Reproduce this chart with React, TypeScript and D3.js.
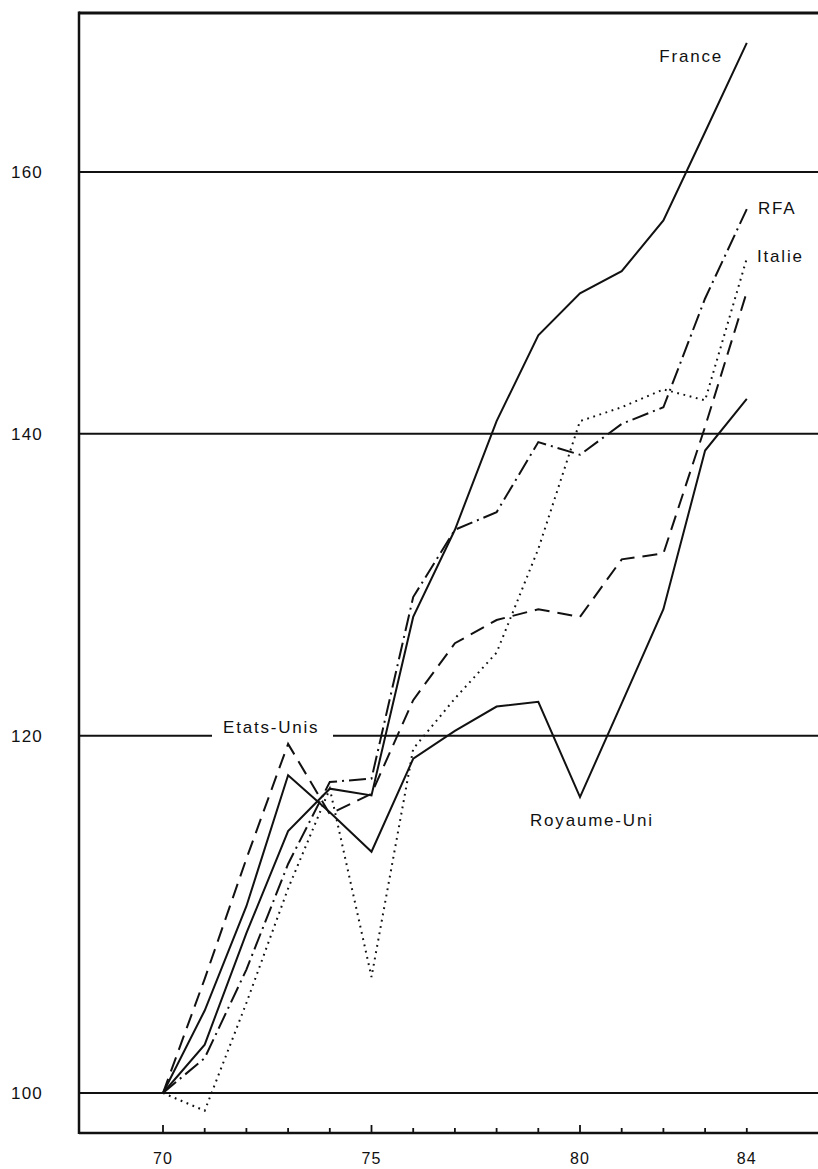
import React from "react";
import * as d3 from "d3";

const years = [70, 71, 72, 73, 74, 75, 76, 77, 78, 79, 80, 81, 82, 83, 84];
const france = [100, 102.5, 108.5, 114.3, 116.8, 116.4, 127.5, 133.3, 140.9, 147.2, 150.4, 152.1, 156.1, 163.3, 170.9];
const rfa = [100, 101.8, 106.5, 112.4, 117.2, 117.4, 128.8, 133.3, 134.5, 139.4, 138.5, 140.7, 141.9, 150.0, 157.0];
const etatsUnis = [100, 106.0, 112.7, 119.5, 115.3, 116.5, 122.2, 125.8, 127.3, 128.0, 127.5, 131.3, 131.7, 140.5, 150.5];
const royaumeUni = [100, 104.3, 110.0, 117.6, 115.4, 113.1, 118.6, 120.3, 121.8, 122.1, 116.3, 122.0, 128.0, 138.8, 142.5];
const italie = [100, 99.1, 104.7, 111.0, 116.8, 106.1, 119.2, 122.3, 125.2, 132.0, 140.9, 141.9, 143.2, 142.4, 153.1];

const yTicks = [100, 120, 140, 160];
const xTickLabels = [70, 75, 80, 84];
const majorTicks = [70, 75, 80];

const W = 818;
const H = 1169;
const FONT = "'Liberation Sans', Arial, Helvetica, sans-serif";

export default function App() {
  const left = 79;
  const top = 13;
  const bottom = 1133;
  const x = d3.scaleLinear().domain([70, 84]).range([163, 746.8]);
  const y = d3.scaleLog().domain([100, 160]).range([1093, 172]);

  const line = (vals: number[]) =>
    d3.line<number>()
      .x((_, i) => x(years[i]))
      .y((v) => y(v))(vals) as string;

  const series = [
    { vals: royaumeUni, dash: "none" },
    { vals: france, dash: "none" },
    { vals: etatsUnis, dash: "15,8" },
    { vals: rfa, dash: "17,5,2,5" },
    { vals: italie, dash: "1.8,4.6" },
  ];

  const gapStart = 212;
  const gapEnd = 333;

  return (
    <svg
      width={W}
      height={H}
      style={{ position: "absolute", left: 0, top: 0, background: "#fff" }}
      fontFamily={FONT}
    >
      <rect x={0} y={0} width={W} height={H} fill="#fff" />
      {/* frame */}
      <line x1={left} x2={W} y1={top} y2={top} stroke="#111" strokeWidth={3} />
      <line x1={left} x2={left} y1={top - 1.5} y2={bottom + 1} stroke="#111" strokeWidth={2.5} />
      <line x1={left} x2={W} y1={bottom} y2={bottom} stroke="#111" strokeWidth={2.5} />
      {/* gridlines */}
      {yTicks.map((t) =>
        t === 120 ? (
          <g key={t}>
            <line x1={left} x2={gapStart} y1={y(t)} y2={y(t)} stroke="#111" strokeWidth={2} />
            <line x1={gapEnd} x2={W} y1={y(t)} y2={y(t)} stroke="#111" strokeWidth={2} />
          </g>
        ) : (
          <line key={t} x1={left} x2={W} y1={y(t)} y2={y(t)} stroke="#111" strokeWidth={2} />
        )
      )}
      {yTicks.map((t) => (
        <text key={"l" + t} x={43} y={y(t)} dy="0.36em" textAnchor="end" fontSize={17} letterSpacing={1.2} fill="#111">
          {t}
        </text>
      ))}
      {/* x ticks */}
      {years.map((yr) => (
        <line
          key={"t" + yr}
          x1={x(yr)}
          x2={x(yr)}
          y1={bottom}
          y2={bottom - (majorTicks.includes(yr) ? 8 : 5)}
          stroke="#111"
          strokeWidth={1.8}
        />
      ))}
      {xTickLabels.map((yr) => (
        <text key={"x" + yr} x={x(yr)} y={1164} textAnchor="middle" fontSize={16} letterSpacing={1.2} fill="#111">
          {yr}
        </text>
      ))}
      {/* series */}
      {series.map((s, i) => (
        <path
          key={i}
          d={line(s.vals)}
          fill="none"
          stroke="#111"
          strokeWidth={2}
          strokeDasharray={s.dash}
          strokeLinejoin="miter"
        />
      ))}
      {/* labels */}
      <text x={723} y={62} textAnchor="end" fontSize={17} letterSpacing={1.8} fill="#111">France</text>
      <text x={758} y={214} fontSize={17} letterSpacing={1.8} fill="#111">RFA</text>
      <text x={757} y={262} fontSize={17} letterSpacing={1.8} fill="#111">Italie</text>
      <text x={223} y={733} fontSize={17} letterSpacing={1.8} fill="#111">Etats-Unis</text>
      <text x={530} y={826} fontSize={17} letterSpacing={1.8} fill="#111">Royaume-Uni</text>
    </svg>
  );
}
